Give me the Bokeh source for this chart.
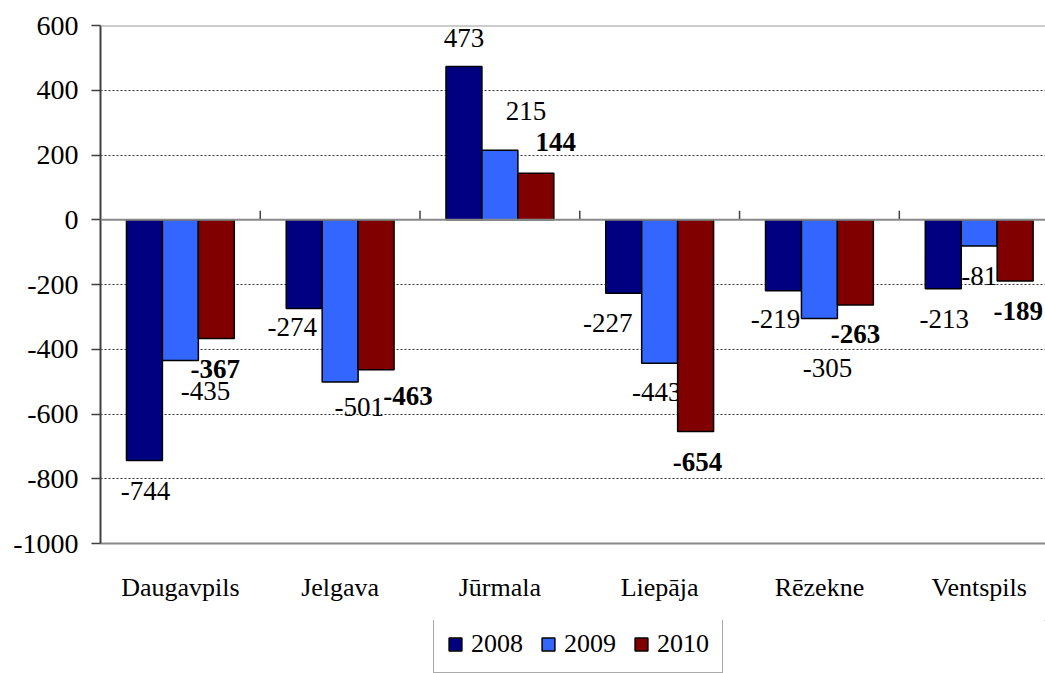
import numpy as np
from bokeh.plotting import figure
from bokeh.layouts import column
from bokeh.models import Range1d, FixedTicker, Span, Legend, LegendItem, ColumnDataSource
from bokeh.core.properties import value
from bokeh.embed import file_html
from bokeh.resources import INLINE

# ---- data ----
cities = ["Daugavpils", "Jelgava", "Jūrmala", "Liepāja", "Rēzekne", "Ventspils"]
years = ["2008", "2009", "2010"]
v2008 = [-744, -274, 473, -227, -219, -213]
v2009 = [-435, -501, 215, -443, -305, -81]
v2010 = [-367, -463, 144, -654, -263, -189]
y_ticks = [-1000, -800, -600, -400, -200, 0, 200, 400, 600]

# ---- style ----
FONT = "Liberation Serif"
FS = "26px"
FS_NUM = "27px"
FS_YTICK = "28px"
colors = ["#000080", "#3366FF", "#800000"]
bar_offsets = [-0.225, 0.0, 0.225]
bar_width = 0.225
# label offsets in screen pixels (dx right, dy down) from bar end
label_dx = [[1, -12, 0, -16, -8, 1],
            [25, 19, 26, -3, 8, 0],
            [-1, 32, 20, 2, 0, 3]]
label_dy = [[30, 19, -29, 30, 28, 30],
            [30, 25, -39, 29, 50, 30],
            [30, 26, -31, 31, 29, 30]]
label_styles = ["normal", "normal", "bold"]

series = [v2008, v2009, v2010]
centers = np.arange(len(cities)) + 0.5

p = figure(width=1045, height=620,
           x_range=Range1d(0, 5.915), y_range=Range1d(-1000, 600),
           output_backend="svg", toolbar_location=None,
           min_border_left=100, min_border_right=0,
           min_border_top=25, min_border_bottom=77)
p.outline_line_color = None
p.background_fill_color = "white"
p.border_fill_color = "white"

# grid
p.xgrid.grid_line_color = None
p.ygrid.ticker = FixedTicker(ticks=[t for t in y_ticks if t not in (-1000, 0, 600)])
p.ygrid.grid_line_color = "#333333"
p.ygrid.grid_line_dash = "2 2"
p.ygrid.grid_line_width = 1

# top border and zero line
p.add_layout(Span(location=600, dimension="width", line_color="#999999", line_width=2))
p.add_layout(Span(location=0, dimension="width", line_color="#888888", line_width=2))

# y axis
p.yaxis.ticker = FixedTicker(ticks=y_ticks)
p.yaxis.major_label_overrides = {t: str(t) for t in y_ticks}
p.yaxis.axis_line_color = "#404040"
p.yaxis.axis_line_width = 2
p.yaxis.major_tick_out = 9
p.yaxis.major_tick_in = 0
p.yaxis.major_tick_line_color = "#404040"
p.yaxis.major_tick_line_width = 1.5
p.yaxis.minor_tick_line_color = None
p.yaxis.major_label_text_font = FONT
p.yaxis.major_label_text_font_size = FS_YTICK
p.yaxis.major_label_text_color = "black"
p.yaxis.major_label_standoff = 13

# x axis (category labels)
p.xaxis.ticker = FixedTicker(ticks=list(centers))
p.xaxis.major_label_overrides = {float(c): n for c, n in zip(centers, cities)}
p.xaxis.axis_line_color = "#888888"
p.xaxis.axis_line_width = 2
p.xaxis.major_tick_line_color = None
p.xaxis.minor_tick_line_color = None
p.xaxis.major_label_text_font = FONT
p.xaxis.major_label_text_font_size = FS
p.xaxis.major_label_text_color = "black"
p.xaxis.major_label_standoff = 23

# category boundary ticks on zero line
bounds = np.arange(1, len(cities))
p.segment(x0=bounds, y0=[0] * len(bounds), x1=bounds, y1=[28] * len(bounds),
          line_color="#404040", line_width=1.5)

for k, vals in enumerate(series):
    src = ColumnDataSource(dict(x=centers + bar_offsets[k], top=vals,
                                txt=[str(v) for v in vals],
                                dx=label_dx[k], dy=label_dy[k]))
    p.vbar(x="x", top="top", bottom=0, width=bar_width, source=src,
           fill_color=colors[k], line_color="black", line_width=1.5)
    p.text(x="x", y="top", text="txt", x_offset="dx", y_offset="dy", source=src,
           text_align="center", text_baseline="middle",
           text_font=value(FONT), text_font_size=FS_NUM,
           text_font_style=label_styles[k], text_color="black")

# ---- legend strip (separate figure below the chart, frames aligned) ----
lg = figure(width=1045, height=53, x_range=Range1d(0, 1), y_range=Range1d(0, 1),
            output_backend="svg", toolbar_location=None,
            min_border_left=100, min_border_right=0,
            min_border_top=0, min_border_bottom=0)
lg.axis.visible = False
lg.grid.visible = False
lg.outline_line_color = None
legend_renderers = []
for k, y in enumerate(years):
    # swatch renderers placed outside the visible range; only their legend glyphs show
    r = lg.vbar(x=[5], top=[5], bottom=[4], width=0.1, fill_color=colors[k],
                line_color="black", line_width=1.5)
    legend_renderers.append(r)
legend = Legend(items=[LegendItem(label=y, renderers=[r]) for y, r in zip(years, legend_renderers)],
                orientation="horizontal", location=(333, 0))
legend.label_text_font = FONT
legend.label_text_font_size = FS
legend.label_text_color = "black"
legend.glyph_width = 16
legend.glyph_height = 16
legend.label_standoff = 8
legend.spacing = 17
legend.padding = 13
legend.margin = 0
legend.border_line_color = "#555555"
legend.border_line_width = 1
legend.background_fill_alpha = 1
lg.add_layout(legend, "center")

layout = column(p, lg, spacing=0)
open("out.html", "w").write(file_html(layout, INLINE))
